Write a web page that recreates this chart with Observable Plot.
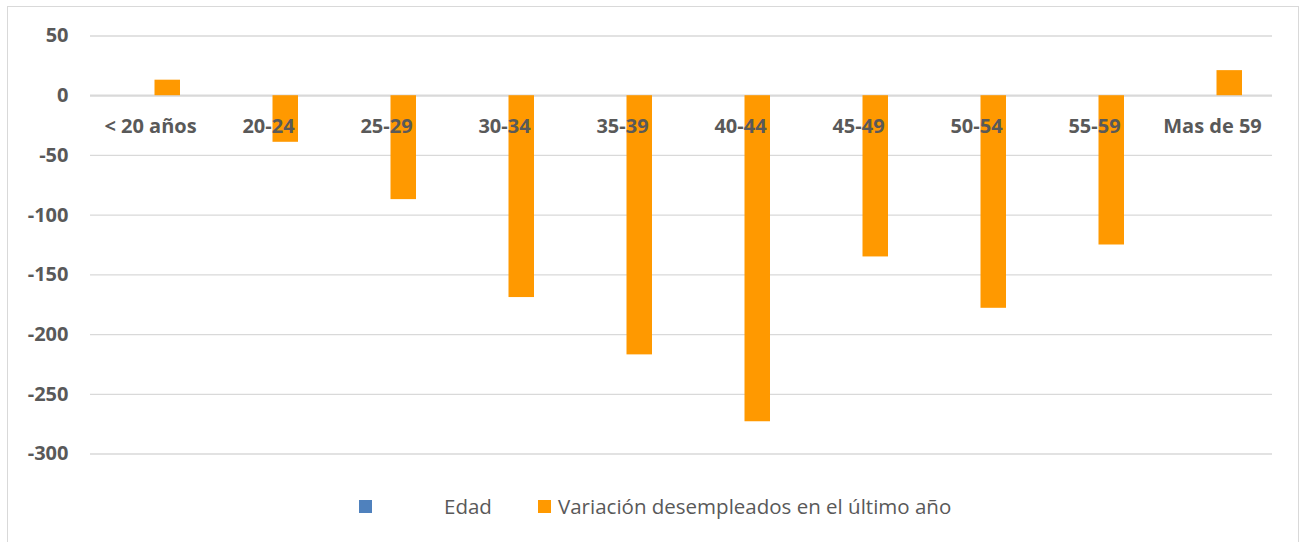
<!DOCTYPE html>
<html>
<head>
<meta charset="utf-8">
<script src="https://cdn.jsdelivr.net/npm/d3@7"></script>
<script src="https://cdn.jsdelivr.net/npm/@observablehq/plot@0.6"></script>
<style>
  html, body { margin: 0; padding: 0; background: #fff; }
  #wrap { position: relative; width: 1304px; height: 542px; overflow: hidden; }
  #border { position: absolute; left: 7px; top: 6px; width: 1292px; height: 560px; border: 1px solid #d9d9d9; box-sizing: border-box; }
  #chart { position: absolute; left: 0; top: 0; }
  #legend { position: absolute; left: 0; top: 480px; width: 1304px; height: 62px; font-family: "Open Sans", sans-serif; font-size: 20.5px; color: #595959; }
  .sw { position: absolute; width: 13px; height: 13px; top: 20px; }
  .lt { position: absolute; top: 12px; line-height: 28px; white-space: nowrap; }
</style>
</head>
<body>
<div id="wrap">
  <div id="border"></div>
  <div id="chart"></div>
  <div id="legend"></div>
</div>
<script>
const categories = ["< 20 años", "20-24", "25-29", "30-34", "35-39", "40-44", "45-49", "50-54", "55-59", "Mas de 59"];
const variacion = [13, -39, -87, -169, -217, -273, -135, -178, -125, 21];
const yTicks = [50, 0, -50, -100, -150, -200, -250, -300];
const seriesNames = ["Edad", "Variación desempleados en el último año"];
const seriesColors = ["#4F81BD", "#FF9900"];

const data = categories.map((c, i) => ({ cat: c, value: variacion[i] }));

const fontBold = { fontFamily: "Open Sans, sans-serif", fontWeight: "bold", fontSize: 20, fill: "#595959" };

const chart = Plot.plot({
  width: 1304,
  height: 480,
  marginLeft: 90,
  marginRight: 32,
  marginTop: 35.5,
  marginBottom: 26.5,
  x: { domain: categories, padding: 0, axis: null },
  y: { domain: [-300, 50], axis: null },
  marks: [
    Plot.ruleY(yTicks.filter(d => d !== 0), { stroke: "#d9d9d9", strokeWidth: 1.3 }),
    Plot.ruleY([0], { stroke: "#d9d9d9", strokeWidth: 2.2 }),
    Plot.barY(data, { x: "cat", y: "value", fill: seriesColors[1], insetLeft: 63.5, insetRight: 29 }),
    Plot.text(yTicks, { x: () => categories[0], y: d => d, text: d => String(d), textAnchor: "end", dx: -82, ...fontBold }),
    Plot.text(data, { x: "cat", y: () => 0, text: "cat", dy: 31, textAnchor: "middle", ...fontBold })
  ]
});
chart.style.fontFamily = "Open Sans, sans-serif";
document.getElementById("chart").appendChild(chart);

const legend = document.getElementById("legend");
const items = [
  { sw: 359, tx: 444 },
  { sw: 538, tx: 558 }
];
seriesNames.forEach((name, i) => {
  const s = document.createElement("div");
  s.className = "sw";
  s.style.left = items[i].sw + "px";
  s.style.background = seriesColors[i];
  legend.appendChild(s);
  const t = document.createElement("div");
  t.className = "lt";
  t.style.left = items[i].tx + "px";
  t.textContent = name;
  legend.appendChild(t);
});
</script>
</body>
</html>
